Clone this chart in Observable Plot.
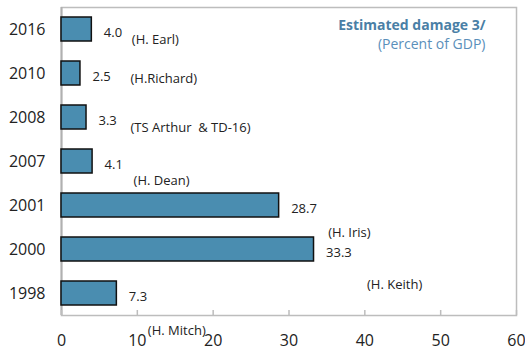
<!DOCTYPE html>
<html>
<head>
<meta charset="utf-8">
<script src="https://cdn.jsdelivr.net/npm/d3@7"></script>
<script src="https://cdn.jsdelivr.net/npm/@observablehq/plot@0.6"></script>
<style>
  html, body { margin: 0; padding: 0; background: #fff; }
  #chart svg { display: block; }
</style>
</head>
<body>
<div id="chart"></div>
<script>
// Estimated damage from major storms, percent of GDP
const years = ["2016", "2010", "2008", "2007", "2001", "2000", "1998"];
const damage = [4.0, 2.5, 3.3, 4.1, 28.7, 33.3, 7.3];
const storms = ["(H. Earl)", "(H.Richard)", "(TS Arthur  & TD-16)", "(H. Dean)", "(H. Iris)", "(H. Keith)", "(H. Mitch)"];
const xTicks = [0, 10, 20, 30, 40, 50, 60];

const rows = years.map((year, i) => ({year, value: damage[i], storm: storms[i]}));

// storm-name label placement relative to the end of each bar (px)
const nameOffset = {
  "2016": [40, 10], "2010": [50, 5], "2008": [44, 10], "2007": [41, 19],
  "2001": [49, 27], "2000": [53, 35], "1998": [31, 37]
};

const font = "'Open Sans', 'Noto Sans', sans-serif";
const blue = "#4a8db0";
const grid = "#bdbdbd";

const stormLabels = rows.map(r => Plot.text([r], {
  y: "year", x: "value", text: "storm", textAnchor: "start",
  dx: nameOffset[r.year][0], dy: nameOffset[r.year][1], fontSize: 13, fill: "#222"
}));

const chart = Plot.plot({
  width: 525,
  height: 350,
  marginLeft: 61,
  marginRight: 9,
  marginTop: 7,
  marginBottom: 35,
  style: {fontFamily: font, background: "#fff"},
  x: {domain: [0, 60], ticks: xTicks, label: null},
  y: {domain: years, paddingInner: 0.45, paddingOuter: 0.225, label: null},
  marks: [
    Plot.frame({stroke: grid, strokeWidth: 1.5}),
    Plot.ruleX([0], {stroke: "#b0b0b0", strokeWidth: 2}),
    Plot.axisX({ticks: xTicks, tickSize: -5, stroke: grid, text: null, strokeWidth: 1.5, label: null}),
    Plot.axisX({ticks: xTicks, tickSize: 0, tickPadding: 19, fontSize: 16, fill: "#222", tickFormat: d => String(d), label: null}),
    Plot.axisY({tickSize: 0, tickPadding: 16, fontSize: 16, fill: "#222", label: null}),
    Plot.barX(rows, {y: "year", x: "value", fill: blue, stroke: "#111", strokeWidth: 1.5}),
    Plot.text(rows, {y: "year", x: "value", text: d => d.value.toFixed(1), textAnchor: "start",
      dx: 12, dy: 3, fontSize: 13, fill: "#222"}),
    ...stormLabels,
    Plot.text(["Estimated damage 3/"], {frameAnchor: "top-right", dx: -31, dy: 13, fontSize: 14,
      fontWeight: "bold", fill: "#4a7fa6", textAnchor: "end"}),
    Plot.text(["(Percent of GDP)"], {frameAnchor: "top-right", dx: -31, dy: 32, fontSize: 14,
      fill: "#5a8fba", textAnchor: "end"})
  ]
});

document.getElementById("chart").append(chart);
</script>
</body>
</html>
